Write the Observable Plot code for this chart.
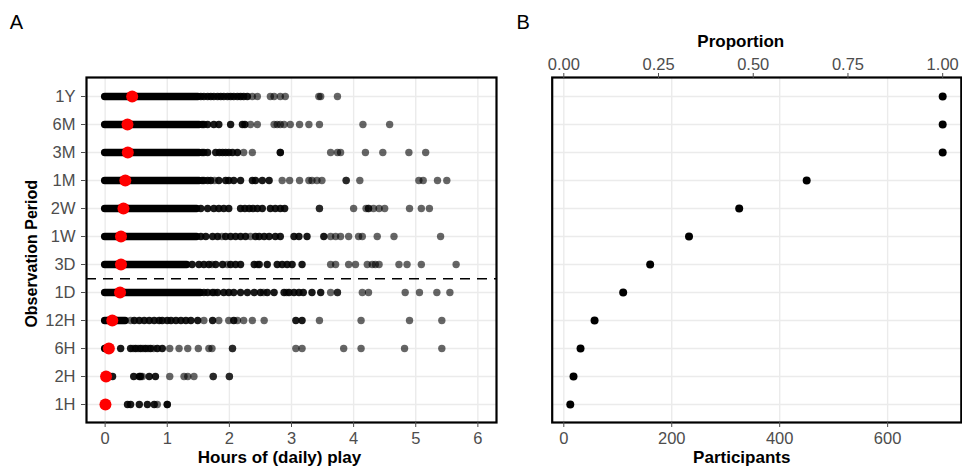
<!DOCTYPE html>
<html>
<head>
<meta charset="utf-8">
<script src="https://cdn.jsdelivr.net/npm/d3@7"></script>
<script src="https://cdn.jsdelivr.net/npm/@observablehq/plot@0.6"></script>
<style>
  body { margin: 0; background: #fff; }
  #wrap { position: relative; width: 962px; height: 468px; overflow: hidden; background: #fff; }
  #a, #b { position: absolute; top: 0; }
  #a { left: 0; }
  #b { left: 500px; }
</style>
</head>
<body>
<div id="wrap"><div id="a"></div><div id="b"></div></div>
<script>
// ---- Data ----
const periods = ["1Y","6M","3M","1M","2W","1W","3D","1D","12H","6H","2H","1H"];
const participants = [702, 702, 702, 450, 325, 232, 160, 110, 57, 31, 18, 12];
const totalN = 702;
const meanHours = [0.435, 0.36, 0.365, 0.325, 0.295, 0.255, 0.255, 0.24, 0.115, 0.06, 0.015, 0.005];
// upper end of the densely packed (solid) run of points, hours
const solidTo = [1.5, 1.52, 1.52, 1.52, 1.48, 1.48, 1.32, 1.54, 0.33, 0.08, 0, 0];

// heavily overlapped (dark) and isolated (light) individual points, hours
const dark1Y = [1.54,1.59,1.65,1.70,1.75,1.81,1.86,1.91,1.97,2.02,2.07,2.13,2.18,2.23,2.29];
const light1Y = [2.37,2.45,2.66,2.72,2.82,2.90,3.44,3.47,3.74];
const dark6M = [1.56,1.59,1.65,1.75,1.83,2.02,2.21,2.25];
const light6M = [2.34,2.45,2.72,2.77,2.82,2.88,2.98,3.13,3.28,3.45,4.15,4.58];
const dark3M = [1.56,1.59,1.65,1.78,1.84,1.89,1.94,1.99,2.05,2.13,2.82];
const light3M = [2.23,2.37,2.82,3.63,3.74,3.79,4.19,4.47,4.89,5.16];
const dark1M = [1.56,1.59,1.65,1.70,1.83,1.94,1.99,2.07,2.18,2.37,2.42,2.53,2.64];
const light1M = [1.76,2.85,2.97,3.13,3.28,3.33,3.41,3.49,3.88,3.88,4.10,5.05,5.12,5.35,5.50];
const dark2W = [1.54,1.65,1.75,1.83,1.91,1.99,2.18,2.25,2.32,2.38,2.45,2.53,2.66,2.74,2.82,2.89];
const light2W = [3.45,3.45,4.00,4.20,4.24,4.24,4.32,4.41,4.50,4.90,5.09,5.22];
const dark1W = [1.54,1.62,1.73,1.81,1.94,2.02,2.10,2.18,2.26,2.42,2.48,2.56,2.64,2.74,2.82,3.04,3.12,3.25,3.52];
const light1W = [1.88,2.34,3.63,3.71,3.79,3.92,4.08,4.14,4.38,4.65,5.40];
const dark3D = [1.40,1.51,1.59,1.67,1.78,1.89,2.02,2.10,2.18,2.40,2.48,2.61,2.77,2.85,2.93,3.01,3.17];
const light3D = [1.72,1.97,2.45,3.63,3.71,3.92,4.03,4.22,4.30,4.35,4.41,4.73,4.86,5.09,5.65];
const dark1D = [1.59,1.65,1.73,1.81,1.91,1.99,2.07,2.18,2.29,2.40,2.50,2.61,2.72,2.88,2.96,3.04,3.12,3.19,3.33,3.47];
const light1D = [1.76,2.55,2.92,3.63,3.74,3.74,4.14,4.24,4.83,5.06,5.34,5.55];
const dark12H = [0.47,0.55,0.63,0.71,0.79,0.87,0.92,1.00,1.06,1.14,1.22,1.30,1.38,1.49,1.73,2.07,3.07,3.17];
const light12H = [0.41,1.59,1.83,1.99,2.13,2.23,2.37,2.56,3.45,4.12,4.90,5.42];
const dark6H = [0.25,0.41,0.49,0.57,0.65,0.73,0.84,0.92];
const light6H = [0.45,0.53,0.61,0.69,0.78,1.04,1.19,1.33,1.50,1.67,1.72,2.05,2.05,3.07,3.17,3.84,4.12,4.82,5.42];
const dark2H = [0,0.12,0.46,0.55,0.57,0.71,0.81];
const light2H = [0.60,1.04,1.27,1.33,1.43,1.74,1.74,2.00,2.00];
const dark1H = [0.36,0.41,0.55,0.68,0.79,1.00];
const light1H = [0,0.84,1.00];

const xTicksA = [0,1,2,3,4,5,6];
const xTicksB = [0,200,400,600];
const propTicks = [0,0.25,0.5,0.75,1];

const darkByRow = [dark1Y,dark6M,dark3M,dark1M,dark2W,dark1W,dark3D,dark1D,dark12H,dark6H,dark2H,dark1H];
const lightByRow = [light1Y,light6M,light3M,light1M,light2W,light1W,light3D,light1D,light12H,light6H,light2H,light1H];

// ---- Tables ----
const rows = periods.map((p, i) => ({period: p, n: participants[i], mean: meanHours[i], solid: solidTo[i]}));
const darkPts = periods.flatMap((p, i) => darkByRow[i].map(h => ({period: p, h})));
const lightPts = periods.flatMap((p, i) => lightByRow[i].map(h => ({period: p, h})));

// ---- Styling ----
const font = '"Liberation Sans", Arial, Helvetica, sans-serif';
const H = 468, mTop = 77, mBottom = 46;
const pad = 0.6;
const step = (H - mTop - mBottom) / (periods.length - 1 + 2 * pad);
const gridStyle = {stroke: "#ebebeb", strokeOpacity: 1, strokeWidth: 1.4};
const baseStyle = {fontFamily: font, fontSize: "16.5px", color: "#4d4d4d", background: "transparent", overflow: "visible"};
const titleStyle = {fontWeight: "bold", fontSize: 17, fill: "black", lineAnchor: "middle", textAnchor: "middle", text: d => d};

const chartA = Plot.plot({
  width: 500, height: H,
  marginLeft: 86, marginRight: 4, marginTop: mTop, marginBottom: mBottom,
  style: baseStyle,
  x: {domain: [-0.3, 6.3]},
  y: {type: "point", domain: periods, padding: pad},
  marks: [
    Plot.gridX(xTicksA, gridStyle),
    Plot.gridY(periods, gridStyle),
    Plot.ruleY(rows, {y: "period", x1: 0, x2: "solid", stroke: "black", strokeWidth: 7.4, strokeLinecap: "round"}),
    Plot.dot(lightPts, {x: "h", y: "period", r: 3.7, fill: "black", fillOpacity: 0.6}),
    Plot.dot(darkPts, {x: "h", y: "period", r: 3.7, fill: "black", fillOpacity: 0.9}),
    Plot.dot(rows, {x: "mean", y: "period", r: 6, fill: "#ff0000"}),
    Plot.ruleY([periods[6]], {dy: step / 2, stroke: "black", strokeWidth: 1.5, strokeDasharray: "10,7"}),
    Plot.frame({stroke: "black", strokeWidth: 2.2}),
    Plot.axisX(xTicksA, {anchor: "bottom", tickSize: 5, tickPadding: 4.5, label: null}),
    Plot.axisY(periods, {anchor: "left", tickSize: 5, tickPadding: 6, label: null}),
    Plot.text(["Hours of (daily) play"], {...titleStyle, frameAnchor: "bottom", dx: -12, dy: 35.5}),
    Plot.text(["Observation Period"], {...titleStyle, fontSize: 16, frameAnchor: "left", rotate: -90, dx: -54.5, dy: 3.8}),
    Plot.text(["A"], {text: d => d, frameAnchor: "top-left", textAnchor: "start", lineAnchor: "middle", dx: -76.7, dy: -55, fontSize: 20, fill: "black"})
  ]
});

const chartB = Plot.plot({
  width: 462, height: H,
  marginLeft: 51.7, marginRight: 1.2, marginTop: mTop, marginBottom: mBottom,
  style: baseStyle,
  x: {domain: [-21.5, 736.5]},
  y: {type: "point", domain: periods, padding: pad, axis: null},
  marks: [
    Plot.gridX(xTicksB, gridStyle),
    Plot.gridY(periods, gridStyle),
    Plot.dot(rows, {x: "n", y: "period", r: 4, fill: "black"}),
    Plot.frame({stroke: "black", strokeWidth: 2.2}),
    Plot.axisX(xTicksB, {anchor: "bottom", tickSize: 5, tickPadding: 4.5, label: null}),
    Plot.axisX(propTicks.map(p => p * totalN), {anchor: "top", tickSize: 5, tickPadding: 3, label: null, tickFormat: d => (d / totalN).toFixed(2)}),
    Plot.text(["Participants"], {...titleStyle, frameAnchor: "bottom", dx: -15, dy: 35.3}),
    Plot.text(["Proportion"], {...titleStyle, frameAnchor: "top", dx: -16, dy: -36}),
    Plot.text(["B"], {text: d => d, frameAnchor: "top-left", textAnchor: "start", lineAnchor: "middle", dx: -35.7, dy: -55, fontSize: 20, fill: "black"})
  ]
});

document.getElementById("a").appendChild(chartA);
document.getElementById("b").appendChild(chartB);
</script>
</body>
</html>
